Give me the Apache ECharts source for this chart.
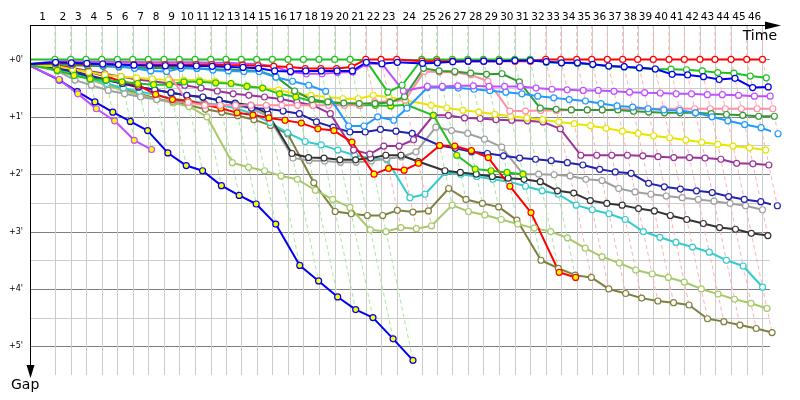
<!DOCTYPE html>
<html><head><meta charset="utf-8">
<script src="https://cdn.jsdelivr.net/npm/echarts@6/dist/echarts.min.js"></script>
<style>html,body{margin:0;padding:0;background:#fff}#c{width:800px;height:400px}</style>
</head><body><div id="c"></div>
<script>
// Leader's cumulative race time (minutes) at the end of each lap; index = lap number
const lapTimes = [0, 2.08, 3.39, 4.67, 5.98, 7.28, 8.56, 9.86, 11.17, 12.44, 13.75, 15.06, 16.33, 17.61, 18.89, 20.19, 21.5, 22.78, 24.08, 25.39, 26.67, 27.98, 29.25, 30.56, 32.64, 33.89, 35.19, 36.48, 37.78, 39.08, 40.39, 41.67, 42.98, 44.23, 45.56, 46.81, 48.11, 49.39, 50.64, 51.94, 53.25, 54.53, 55.83, 57.08, 58.42, 59.73, 61.04];
const lapLabels = Array.from({length: 46}, (_, i) => String(i + 1));
const gapTicks = [0, 1, 2, 3, 4, 5];
const gapTickLabels = ["+0'", "+1'", "+2'", "+3'", "+4'", "+5'"];
const xTitle = "Time";
const yTitle = "Gap";

// Gap to leader (minutes) per lap, index = lap (0 = start)
const G1 = [0, 0,0,0,0,0,0,0,0,0,0,0,0,0,0,0,0,0,0,0,0, 0.02,0.57,0.45, 0,0,0,0,0,0,0,0, 0.05,0.06,0.07,0.09,0.12,0.13,0.15,0.17,0.17,0.18,0.20,0.23,0.24,0.29,0.32];
const B1 = [0.08, 0.05,0.06,0.07,0.08,0.09,0.10,0.11,0.11,0.11,0.115,0.12,0.13,0.14,0.155,0.20,0.21,0.20,0.20,0.20,0.20, 0.05,0.075,0.05, 0.07,0.06,0.04,0.03,0.03,0.03,0.02,0.02, 0.04,0.06,0.06,0.085,0.115,0.127,0.145,0.167,0.26,0.27,0.30,0.35,0.33,0.49,0.48];
const R1 = [0.08, 0.06,0.07,0.08,0.08,0.09,0.09,0.09,0.09,0.09,0.09,0.09,0.10,0.10,0.11,0.12,0.13,0.16,0.16,0.16,0.13, 0,0,0, 0.03,0.03,0.03,0.03,0.03,0.03,0.03,0.03, 0,0,0,0,0,0,0,0,0,0,0,0,0,0,0];
const V1 = [0.08, 0.03,0.03,0.04,0.04,0.04,0.05,0.05,0.05,0.05,0.05,0.06,0.06,0.07,0.08,0.12,0.22,0.25,0.25,0.23,0.22, 0.075,0.075,0.55, 0.47,0.47,0.46,0.46,0.47,0.47,0.47,0.50, 0.52,0.53,0.54,0.54,0.556,0.57,0.58,0.585,0.60,0.60,0.615,0.615,0.625,0.64,0.64];
const P  = [0.08, 0.04,0.04,0.04,0.04,0.04,0.04,0.05,0.20,0.75,0.80,0.80,0.80,0.80,0.80,0.80,0.80,0.80,0.80,0.80,0.80, 0.74,0.73,0.71, 0.21,0.22,0.23,0.27,0.38,0.90,0.90,0.89, 0.89,0.88,0.88,0.88,0.87,0.87,0.86,0.86,0.86,0.86,0.86,0.86,0.86,0.86,0.86];
const DB = [0.08, 0.06,0.08,0.08,0.10,0.12,0.155,0.20,0.21,0.155,0.155,0.185,0.20,0.21,0.21,0.31,0.38,0.45,0.556,1.16,1.16, 1.0,1.06,0.85, 0.49,0.49,0.50,0.52,0.545,0.57,0.60,0.64, 0.67,0.70,0.725,0.77,0.81,0.83,0.86,0.88,0.89,0.93,1.0,1.07,1.135,1.19,1.295];
const DG = [0.08, 0.08,0.10,0.11,0.12,0.13,0.14,0.15,0.15,0.15,0.16,0.17,0.18,0.19,0.20,0.30,0.55,0.70,0.74,0.76,0.77, 0.77,0.75,0.65, 0.155,0.20,0.21,0.24,0.26,0.25,0.39,0.85, 0.87,0.88,0.88,0.88,0.88,0.905,0.917,0.93,0.93,0.93,0.946,0.96,0.975,0.99,0.99];
const G2 = [0.10, 0.19,0.28,0.34,0.36,0.39,0.42,0.44,0.44,0.39,0.39,0.41,0.42,0.47,0.50,0.60,0.655,0.73,0.76,0.79,0.80, 0.80,0.81,0.79, 0.975,1.67,1.91,1.94,1.97,2.0];
const Y  = [0.10, 0.12,0.17,0.22,0.27,0.30,0.32,0.34,0.36,0.36,0.36,0.38,0.42,0.46,0.50,0.53,0.60,0.626,0.655,0.685,0.685, 0.626,0.655,0.71, 0.80,0.847,0.887,0.917,0.957,0.99,1.02,1.05, 1.09,1.12,1.155,1.20,1.25,1.29,1.33,1.365,1.405,1.445,1.48,1.51,1.54,1.58];
const R2 = [0.10, 0.10,0.16,0.22,0.29,0.39,0.45,0.61,0.70,0.72,0.79,0.85,0.93,0.97,1.02,1.06,1.11,1.21,1.24,1.44,2.0, 1.90,1.93,1.81, 1.50,1.51,1.59,1.71,2.21,2.67,3.71,3.80];
const PU = [0.10, 0.10,0.15,0.20,0.25,0.30,0.35,0.38,0.42,0.45,0.50,0.55,0.60,0.626,0.655,0.69,0.745,0.80,0.946,1.58,1.65, 1.51,1.51,1.40, 0.975,0.975,1.02,1.03,1.05,1.06,1.07,1.09, 1.21,1.67,1.67,1.67,1.67,1.68,1.695,1.71,1.71,1.72,1.74,1.81,1.82,1.84];
const NV = [0.10, 0.15,0.22,0.30,0.36,0.42,0.48,0.53,0.58,0.626,0.655,0.71,0.77,0.85,0.86,0.90,0.946,1.09,1.18,1.265,1.265, 1.22,1.25,1.29, 1.50,1.55,1.61,1.64,1.68,1.72,1.74,1.765, 1.80,1.84,1.915,1.96,1.985,2.16,2.22,2.26,2.29,2.32,2.39,2.44,2.48,2.55];
const K  = [0.10, 0.15,0.20,0.28,0.35,0.42,0.48,0.53,0.58,0.63,0.66,0.71,0.76,0.80,0.95,1.64,1.71,1.72,1.75,1.75,1.72, 1.67,1.67,1.78, 1.94,1.97,2.0,2.04,2.07,2.09,2.13,2.29, 2.33,2.46,2.51,2.54,2.60,2.64,2.72,2.79,2.86,2.93,2.96,3.03,3.07];
const GR = [0.10, 0.20,0.36,0.45,0.54,0.60,0.655,0.70,0.73,0.75,0.77,0.79,0.81,0.85,1.0,1.72,1.76,1.77,1.79,1.79,1.77, 1.73,1.70,1.61, 1.18,1.24,1.29,1.39,1.53,2.0,2.0,2.01, 2.03,2.09,2.11,2.25,2.31,2.35,2.38,2.41,2.44,2.47,2.51,2.55,2.62];
const C  = [0.10, 0.15,0.25,0.33,0.42,0.50,0.56,0.62,0.68,0.72,0.76,0.80,0.85,0.95,1.10,1.28,1.43,1.49,1.58,1.67,1.72, 1.75,2.41,2.35, 1.97,2.0,2.04,2.09,2.13,2.21,2.29,2.35, 2.54,2.62,2.69,2.79,3.0,3.10,3.19,3.27,3.36,3.50,3.60,3.97];
const O  = [0.10, 0.15,0.25,0.35,0.45,0.52,0.60,0.68,0.75,0.80,0.87,0.92,0.98,1.05,1.15,1.30,2.15,2.65,2.69,2.72,2.72, 2.63,2.66,2.64, 2.25,2.44,2.51,2.57,2.80,3.50,3.64,3.76, 3.80,4.0,4.08,4.16,4.21,4.24,4.28,4.52,4.57,4.63,4.69,4.76];
const LO = [0.10, 0.15,0.25,0.35,0.45,0.55,0.62,0.70,0.76,0.82,1.0,1.80,1.88,1.94,2.03,2.09,2.28,2.44,2.58,2.97,3.0, 2.93,2.95,2.90, 2.54,2.65,2.71,2.79,2.87,2.94,3.0,3.11, 3.29,3.44,3.55,3.67,3.74,3.80,3.88,4.0,4.09,4.18,4.25,4.34];
const B2 = [0.12, 0.36,0.56,0.74,0.92,1.08,1.24,1.63,1.85,1.94,2.20,2.37,2.52,2.87,3.59,3.86,4.14,4.36,4.50,4.87,5.245];
const V2 = [0.12, 0.35,0.60,0.86,1.07,1.41,1.57];

const cars = [
  {d: B2, c: '#0000ee', f: '#ffff00'},
  {d: V2, c: '#c050ff', f: '#ffff00'},
  {d: O,  c: '#7f7f3f', f: '#ffffff'},
  {d: LO, c: '#a6c96a', f: '#ffffff'},
  {d: C,  c: '#33cccc', f: '#ffffff'},
  {d: GR, c: '#a0a0a0', f: '#ffffff'},
  {d: K,  c: '#333333', f: '#ffffff'},
  {d: NV, c: '#2222b0', f: '#ffffff'},
  {d: PU, c: '#993399', f: '#ffffff'},
  {d: R2, c: '#ff0000', f: '#ffff00'},
  {d: Y,  c: '#e6e600', f: '#ffffff'},
  {d: G2, c: '#22c022', f: '#ffff00'},
  {d: P,  c: '#ff8fa8', f: '#ffffff'},
  {d: DG, c: '#339933', f: '#ffffff'},
  {d: DB, c: '#2299ff', f: '#ffffff'},
  {d: V1, c: '#c050ff', f: '#ffffff'},
  {d: G1, c: '#22c022', f: '#ffffff'},
  {d: R1, c: '#ff0000', f: '#ffffff'},
  {d: B1, c: '#0000ee', f: '#ffffff'}
];

const X_MAX = 61.6667, Y_MIN = -0.6, Y_MAX = 5.5;

// Lap line extent: deepest gap of any car on that lap; colour of the lap leader
const lapLines = [];
for (let n = 1; n < lapTimes.length; n++) {
  let gmax = 0, best = Infinity, leadCol = '#22c022';
  cars.forEach(car => {
    const g = car.d[n];
    if (g === undefined || g === null) return;
    if (g > gmax) gmax = g;
    if (g < best) { best = g; leadCol = car.c; }
  });
  lapLines.push([lapTimes[n], gmax, leadCol === '#ff0000' ? '#ffb0b0' : '#a6e6a6']);
}

const hLevels = [];
gapTicks.forEach((t, i) => {
  hLevels.push([t, 1]);
  if (i < gapTicks.length - 1) hLevels.push([t + 0.5, 0]);
});

const series = [];
series.push({
  type: 'custom', silent: true, z: 1, clip: false,
  data: hLevels,
  renderItem: (p, api) => {
    const g = api.value(0), major = api.value(1);
    const a = api.coord([0, g]), b = api.coord([X_MAX, g]);
    const y = Math.round(a[1]) + 0.5;
    return {type: 'line', shape: {x1: a[0], y1: y, x2: b[0], y2: y},
      style: {stroke: major ? '#808080' : '#cccccc', lineWidth: 1}};
  }
});
series.push({
  type: 'custom', silent: true, z: 1, clip: false,
  data: lapTimes.slice(1).map(t => [t, 0]),
  renderItem: (p, api) => {
    const t = api.value(0);
    const a = api.coord([t, Y_MIN]), b = api.coord([t, Y_MAX]);
    const x = Math.round(a[0]) + 0.5;
    return {type: 'line', shape: {x1: x, y1: a[1], x2: x, y2: b[1]},
      style: {stroke: '#cccccc', lineWidth: 1}};
  }
});
series.push({
  type: 'custom', silent: true, z: 2, clip: false,
  data: lapLines.map(l => [l[0], l[1]]),
  renderItem: (p, api) => {
    const t = api.value(0), g = api.value(1);
    const col = lapLines[p.dataIndex][2];
    const pts = [api.coord([t, Y_MIN]), api.coord([t, 0]), api.coord([t + g, g])];
    return {type: 'polyline', shape: {points: pts},
      style: {stroke: col, lineWidth: 1, lineDash: [4, 3], fill: null}};
  }
});
cars.forEach(car => {
  const data = car.d.map((g, i) => {
    const v = [lapTimes[i] + g, g];
    return i === 0 ? {value: v, symbol: 'none'} : {value: v};
  });
  series.push({
    type: 'line', z: 3, clip: false, data,
    symbol: 'circle', symbolSize: 6, showAllSymbol: true,
    lineStyle: {color: car.c, width: 2},
    itemStyle: {color: car.f, borderColor: car.c, borderWidth: 1.2},
    emphasis: {disabled: true}
  });
});
series.push({
  type: 'custom', silent: true, z: 5, clip: false,
  data: lapLabels.map((s, i) => [(lapTimes[i] + lapTimes[i + 1]) / 2, 0]),
  renderItem: (p, api) => {
    const c = api.coord([api.value(0), 0]);
    return {type: 'text', x: c[0], y: 17,
      style: {text: lapLabels[p.dataIndex], align: 'center', verticalAlign: 'middle',
        textAlign: 'center', textVerticalAlign: 'middle',
        font: '10.5px "DejaVu Sans"', fill: '#000'}};
  }
});
series.push({
  type: 'custom', silent: true, z: 5, clip: false,
  data: gapTicks.map(g => [0, g]),
  renderItem: (p, api) => {
    const c = api.coord([0, api.value(1)]);
    return {type: 'text', x: 23, y: c[1],
      style: {text: gapTickLabels[p.dataIndex], align: 'right', verticalAlign: 'middle',
        textAlign: 'right', textVerticalAlign: 'middle',
        font: '8px "DejaVu Sans"', fill: '#000'}};
  }
});

const chart = echarts.init(document.getElementById('c'));
chart.setOption({
  animation: false,
  backgroundColor: '#ffffff',
  grid: {left: 30, right: 30, top: 25, bottom: 25},
  xAxis: {type: 'value', min: 0, max: X_MAX, show: false},
  yAxis: {type: 'value', min: Y_MIN, max: Y_MAX, inverse: true, show: false},
  graphic: [
    {type: 'line', shape: {x1: 30, y1: 25.5, x2: 768, y2: 25.5}, style: {stroke: '#000', lineWidth: 1}, z: 10},
    {type: 'polygon', shape: {points: [[765, 21.5], [781, 25.5], [765, 29.5]]}, style: {fill: '#000'}, z: 10},
    {type: 'line', shape: {x1: 30.5, y1: 25, x2: 30.5, y2: 368}, style: {stroke: '#000', lineWidth: 1}, z: 10},
    {type: 'polygon', shape: {points: [[26.5, 365], [30.5, 378], [34.5, 365]]}, style: {fill: '#000'}, z: 10},
    {type: 'text', x: 777, y: 36, style: {text: xTitle, align: 'right', verticalAlign: 'middle', textAlign: 'right', textVerticalAlign: 'middle', font: '14px "DejaVu Sans"', fill: '#000'}, z: 10},
    {type: 'text', x: 11, y: 385, style: {text: yTitle, align: 'left', verticalAlign: 'middle', textAlign: 'left', textVerticalAlign: 'middle', font: '14px "DejaVu Sans"', fill: '#000'}, z: 10}
  ],
  series
});
</script>
</body></html>
